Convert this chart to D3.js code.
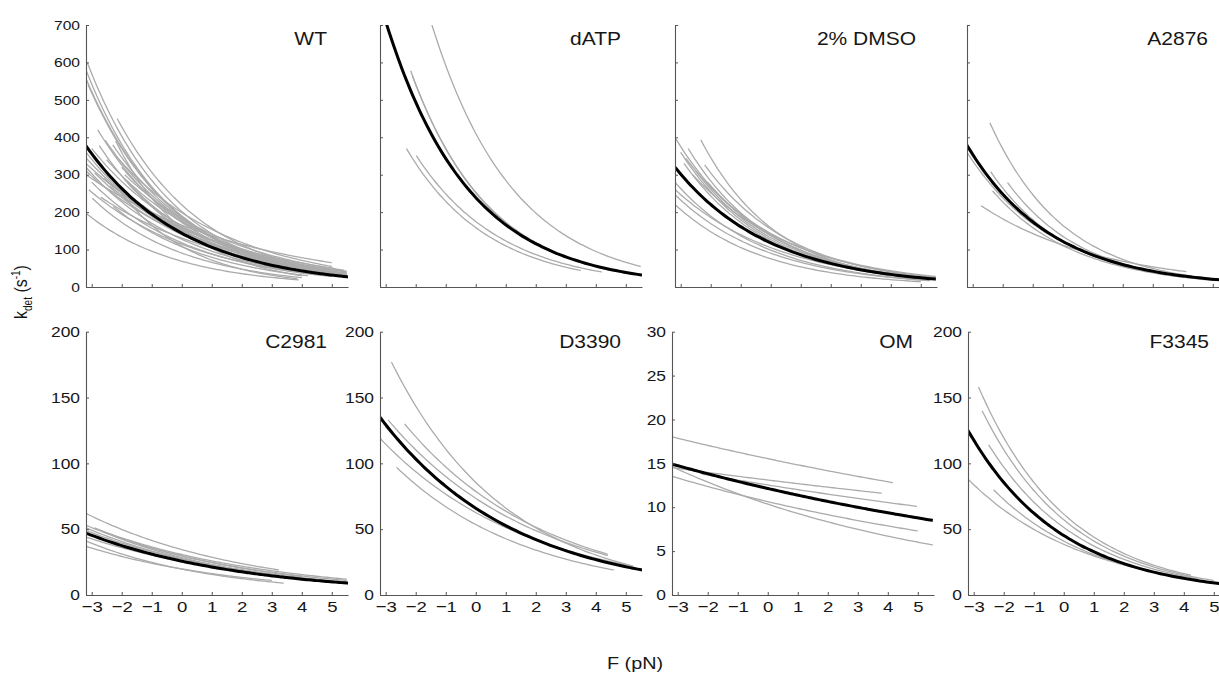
<!DOCTYPE html>
<html>
<head>
<meta charset="utf-8">
<script src="https://cdn.jsdelivr.net/npm/d3@7"></script>
<style>
  body { margin: 0; background: #fff; }
  svg text { font-family: "Liberation Sans", Arial, sans-serif; fill: #161616; }
</style>
</head>
<body>
<svg id="chart" width="1219" height="673"></svg>
<script>
// each trace: [F start (pN), F end (pN), k_det at start, k_det at end]  (exponential fits)
const wtGrey = [
  [-3.15, 5.5, 600, 30], [-3.17, 5.3, 553, 32], [-3.12, 5.4, 540, 30], [-2.15, 5.5, 450, 35],
  [-2.55, 5.0, 392, 40], [-2.3, 5.5, 380, 33], [-2.75, 4.6, 378, 35], [-2.9, 5.5, 305, 32],
  [-3.19, 5.0, 300, 65], [-3.19, 5.05, 330, 50], [-3.19, 5.5, 360, 30], [-3.19, 5.3, 345, 38],
  [-3.19, 4.5, 320, 35], [-3.19, 4.8, 310, 45], [-2.98, 4.0, 237, 25], [-2.28, 4.2, 215, 30],
  [-3.19, 3.9, 197, 19], [-2.0, 3.85, 250, 22], [-2.5, 5.5, 340, 40], [-2.6, 5.5, 290, 42],
  [-3.0, 5.0, 280, 28], [-2.0, 5.5, 320, 35], [-1.9, 5.4, 300, 45], [-2.4, 4.9, 270, 45],
  [-3.19, 5.5, 580, 27], [-2.8, 5.5, 420, 30], [-3.0, 5.2, 370, 40], [-2.2, 4.0, 390, 30],
  [-1.8, 5.5, 280, 30], [-2.1, 4.5, 260, 38], [-3.1, 4.8, 260, 32], [-2.7, 5.5, 240, 38],
  [-1.5, 5.5, 230, 33], [-2.2, 5.0, 350, 55]
];
const wtMean = [-3.19, 5.54, 377, 27];

const datpGrey = [
  [-1.46, 5.5, 700, 55], [-2.17, 5.3, 578, 33], [-2.12, 5.0, 566, 38],
  [-2.31, 3.5, 370, 44], [-1.98, 4.2, 351, 40]
];
const datpMean = [-3.19, 5.54, 760, 32];

const dmsoGrey = [
  [-3.17, 5.5, 397, 22], [-2.33, 5.3, 393, 20], [-2.83, 5.5, 344, 26], [-2.89, 5.0, 330, 22],
  [-2.2, 5.5, 326, 24], [-3.17, 5.2, 278, 18], [-3.17, 5.5, 259, 22], [-3.17, 5.0, 219, 14],
  [-2.6, 5.5, 300, 28], [-2.75, 4.8, 370, 25], [-3.0, 5.3, 360, 20], [-2.5, 5.5, 310, 20],
  [-3.17, 5.3, 245, 17], [-2.1, 5.0, 280, 25]
];
const dmsoMean = [-3.19, 5.5, 320, 21];

const a2876Grey = [
  [-2.43, 5.5, 439, 18], [-2.4, 5.0, 308, 18], [-1.84, 5.3, 279, 17],
  [-2.34, 4.5, 257, 22], [-2.72, 4.12, 217, 41], [-3.2, 4.0, 361, 30]
];
const a2876Mean = [-3.2, 5.55, 380, 17];

const c2981Grey = [
  [-3.19, 3.24, 62, 19], [-3.19, 5.5, 53, 11], [-3.19, 5.3, 51, 10], [-2.9, 4.0, 51, 14],
  [-3.19, 5.5, 44, 10], [-3.19, 3.4, 41, 9], [-3.19, 3.0, 37, 11], [-2.6, 5.5, 48, 12],
  [-3.19, 4.5, 49, 12], [-2.3, 3.2, 45, 15]
];
const c2981Mean = [-3.19, 5.54, 47, 9];

const d3390Grey = [
  [-2.81, 5.25, 177, 22], [-2.92, 4.4, 133, 30], [-2.37, 4.4, 130, 31],
  [-3.19, 5.2, 119, 22], [-2.64, 4.6, 97, 19], [-3.0, 4.6, 128, 24]
];
const d3390Mean = [-3.19, 5.54, 135, 19];

const omGrey = [
  [-3.17, 4.17, 18, 12.8], [-3.17, 3.8, 14.5, 11.6], [-2.2, 4.97, 13.8, 10.1],
  [-3.17, 5.0, 13.5, 7.3], [-3.17, 5.5, 14.6, 5.7]
];
const omMean = [-3.17, 5.5, 14.9, 8.5];

const f3345Grey = [
  [-2.84, 4.24, 158, 15], [-2.72, 5.0, 140, 11], [-2.5, 4.3, 114, 13],
  [-2.34, 4.0, 80, 13], [-3.19, 4.5, 88, 12]
];
const f3345Mean = [-3.19, 5.55, 125, 7.7];

const panelNames = ['WT', 'dATP', '2% DMSO', 'A2876', 'C2981', 'D3390', 'OM', 'F3345'];
const xTicks = [-3, -2, -1, 0, 1, 2, 3, 4, 5];
const yTicksTop = [0, 100, 200, 300, 400, 500, 600, 700];
const yTicksBottom = [0, 50, 100, 150, 200];
const yTicksOM = [0, 5, 10, 15, 20, 25, 30];

const xDomain = [-3.19, 5.54];
const panels = [
  { grey: wtGrey, mean: wtMean, ticks: yTicksTop, labels: true },
  { grey: datpGrey, mean: datpMean, ticks: yTicksTop, labels: false },
  { grey: dmsoGrey, mean: dmsoMean, ticks: yTicksTop, labels: false },
  { grey: a2876Grey, mean: a2876Mean, ticks: yTicksTop, labels: false },
  { grey: c2981Grey, mean: c2981Mean, ticks: yTicksBottom, labels: true },
  { grey: d3390Grey, mean: d3390Mean, ticks: yTicksBottom, labels: true },
  { grey: omGrey, mean: omMean, ticks: yTicksOM, labels: true },
  { grey: f3345Grey, mean: f3345Mean, ticks: yTicksBottom, labels: true }
];

// layout
const lefts = [[86, 380, 675, 967], [86, 380, 672, 968]];
const rows = [{ top: 25, bottom: 287, title: 45 }, { top: 331.7, bottom: 595, title: 348 }];
const plotW = 262;
const stretch = 1.2;

const svg = d3.select('#chart');

panels.forEach((p, i) => {
  const row = Math.floor(i / 4), col = i % 4;
  const left = lefts[row][col], r = rows[row];
  const g = svg.append('g').attr('transform', `translate(${left},0)`);

  const x = d3.scaleLinear().domain(xDomain).range([0, plotW]);
  const y = d3.scaleLinear().domain([0, d3.max(p.ticks)]).range([r.bottom, r.top]);

  const clipId = 'clip' + i;
  g.append('clipPath').attr('id', clipId)
    .append('rect').attr('x', 0).attr('y', r.top).attr('width', plotW).attr('height', r.bottom - r.top);

  const line = d3.line().x(d => x(d[0])).y(d => y(d[1])).curve(d3.curveBasis);
  const trace = t => {
    const [f0, f1, k0, k1] = t;
    return d3.range(0, 61).map(j => {
      const f = f0 + (f1 - f0) * j / 60;
      return [f, k0 * Math.pow(k1 / k0, (f - f0) / (f1 - f0))];
    });
  };

  const lines = g.append('g').attr('clip-path', `url(#${clipId})`);
  lines.selectAll('path.grey')
    .data(p.grey)
    .join('path')
    .attr('class', 'grey')
    .attr('d', d => line(trace(d)))
    .attr('fill', 'none')
    .attr('stroke', '#ababab')
    .attr('stroke-width', 1.3);
  lines.append('path')
    .attr('d', line(trace(p.mean)))
    .attr('fill', 'none')
    .attr('stroke', '#000')
    .attr('stroke-width', 3);

  const xAxis = d3.axisBottom(x).tickValues(xTicks).tickSize(-3).tickSizeOuter(0).tickPadding(6);
  if (row === 0) xAxis.tickFormat('');
  const gx = g.append('g').attr('transform', `translate(0,${r.bottom})`).call(xAxis);
  gx.selectAll('text').style('font-size', '15.5px').attr('transform', `scale(${stretch},1)`);

  const yAxis = d3.axisLeft(y).tickValues(p.ticks).tickSize(-3).tickSizeOuter(0).tickPadding(5);
  if (!p.labels) yAxis.tickFormat('');
  const gy = g.append('g').call(yAxis);
  gy.selectAll('text').style('font-size', row === 0 ? '13px' : '14.5px').attr('transform', `scale(${stretch},1)`);

  [gx, gy].forEach(a => {
    a.select('.domain').attr('stroke', '#555').attr('stroke-width', 1.1);
    a.selectAll('.tick line').attr('stroke', '#555');
  });

  g.append('text')
    .attr('transform', `translate(${plotW - 21},${r.title}) scale(${stretch},1)`)
    .attr('text-anchor', 'end')
    .style('font-size', '17.5px')
    .text(panelNames[i]);
});

// axis titles
const yt = svg.append('text')
  .attr('transform', `translate(27,292) scale(${stretch},1) rotate(-90)`)
  .attr('text-anchor', 'middle')
  .style('font-size', '16px');
yt.append('tspan').text('k');
yt.append('tspan').attr('dy', 4).style('font-size', '10px').text('det');
yt.append('tspan').attr('dy', -4).text(' (s');
yt.append('tspan').attr('dy', -6).style('font-size', '10px').text('-1');
yt.append('tspan').attr('dy', 6).text(')');

svg.append('text')
  .attr('transform', `translate(635,669) scale(${stretch},1)`)
  .attr('text-anchor', 'middle')
  .style('font-size', '16.5px')
  .text('F (pN)');
</script>
</body>
</html>
